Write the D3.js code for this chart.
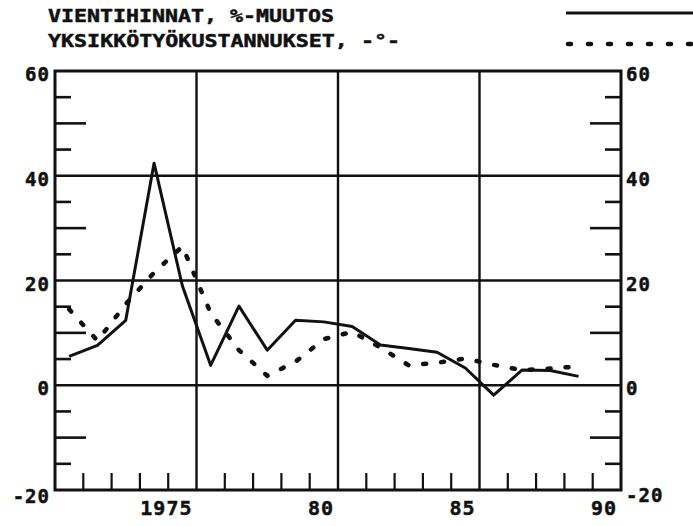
<!DOCTYPE html>
<html>
<head>
<meta charset="utf-8">
<script src="https://cdn.jsdelivr.net/npm/d3@7"></script>
<style>
  html, body { margin: 0; padding: 0; background: #fff; }
  svg { display: block; }
  text { font-family: "DejaVu Sans Mono", "Liberation Mono", monospace; font-weight: bold;
         fill: #111; stroke: #111; stroke-width: 0.5; }
</style>
</head>
<body>
<svg id="chart" width="693" height="526"></svg>
<script>
// Annual % change, plotted at the middle of each year
const years = [1971, 1972, 1973, 1974, 1975, 1976, 1977, 1978, 1979, 1980,
               1981, 1982, 1983, 1984, 1985, 1986, 1987, 1988, 1989];
// Export prices (solid line)
const exportPrices = [5.5, 7.6, 12.4, 42.4, 19.0, 3.8, 15.1, 6.7, 12.4, 12.1,
                      11.2, 7.7, 7.0, 6.3, 3.3, -1.9, 2.9, 2.8, 1.7];
// Unit labour costs (dotted line)
const unitLabourCosts = [14.5, 8.5, 15.5, 21.5, 26.5, 13.8, 6.7, 1.8, 4.5, 8.8,
                         10.2, 7.2, 3.8, 4.3, 5.1, 3.9, 2.9, 3.2, 3.6];

const yTicks = [-20, 0, 20, 40, 60];
const yMinorTicks = [-15, -10, -5, 5, 10, 15, 25, 30, 35, 45, 50, 55];
const xLabels = [1975, 1980, 1985, 1990];
const xLabelText = ["1975", "80", "85", "90"];
const legendLabels = ["VIENTIHINNAT, %-MUUTOS", "YKSIKKÖTYÖKUSTANNUKSET, -°-"];

const svg = d3.select("#chart");
const ink = "#111";

const x = d3.scaleLinear().domain([1971, 1991]).range([55, 621]);
const y = d3.scaleLinear().domain([-20, 60]).range([490, 71]);

const [x0, x1] = x.range();
const [yb, yt] = y.range();

// Horizontal grid lines at the labelled values
svg.append("g").selectAll("line")
  .data(yTicks.filter(v => v > -20 && v < 60))
  .join("line")
  .attr("x1", x0).attr("x2", x1)
  .attr("y1", d => y(d)).attr("y2", d => y(d))
  .attr("stroke", ink).attr("stroke-width", 2.6);

// Vertical grid lines closing each five-year block
svg.append("g").selectAll("line")
  .data(xLabels.filter(v => v < 1990))
  .join("line")
  .attr("x1", d => x(d + 1)).attr("x2", d => x(d + 1))
  .attr("y1", yb).attr("y2", yt)
  .attr("stroke", ink).attr("stroke-width", 2.4);

// Minor ticks on both vertical axes (long at multiples of 10)
const tickLen = d => (d % 10 === 0 ? 31 : 16);
svg.append("g").selectAll("line")
  .data(yMinorTicks)
  .join("line")
  .attr("x1", x0).attr("x2", d => x0 + tickLen(d))
  .attr("y1", d => y(d)).attr("y2", d => y(d))
  .attr("stroke", ink).attr("stroke-width", 2.6);
svg.append("g").selectAll("line")
  .data(yMinorTicks)
  .join("line")
  .attr("x1", x1).attr("x2", d => x1 - tickLen(d))
  .attr("y1", d => y(d)).attr("y2", d => y(d))
  .attr("stroke", ink).attr("stroke-width", 2.6);

// Yearly ticks on the bottom axis
const yearTicks = d3.range(1972, 1991).filter(v => (v - 1971) % 5 !== 0);
svg.append("g").selectAll("line")
  .data(yearTicks)
  .join("line")
  .attr("x1", d => x(d)).attr("x2", d => x(d))
  .attr("y1", yb).attr("y2", yb - 17)
  .attr("stroke", ink).attr("stroke-width", 2.2);

// Frame
svg.append("rect")
  .attr("x", x0).attr("y", yt)
  .attr("width", x1 - x0).attr("height", yb - yt)
  .attr("fill", "none").attr("stroke", ink).attr("stroke-width", 3);

// Axis labels
const fmt = d => d < 0 ? "-" + Math.abs(d) : String(d);
svg.append("g").selectAll("text")
  .data(yTicks)
  .join("text")
  .attr("x", x0 - 5).attr("y", d => y(d) + (d === -20 ? 6 : 3))
  .attr("text-anchor", "end").attr("dominant-baseline", "central")
  .attr("font-size", 19).attr("letter-spacing", 1)
  .text(fmt);
svg.append("g").selectAll("text")
  .data(yTicks)
  .join("text")
  .attr("x", x1 + 5).attr("y", d => y(d) + (d === -20 ? 5 : 3))
  .attr("text-anchor", "start").attr("dominant-baseline", "central")
  .attr("font-size", 19).attr("letter-spacing", 1)
  .text(fmt);
svg.append("g").selectAll("text")
  .data(xLabels)
  .join("text")
  .attr("x", d => x(d + 1) - 4).attr("y", yb + 18)
  .attr("text-anchor", "end").attr("dominant-baseline", "central")
  .attr("font-size", 20).attr("letter-spacing", 1)
  .text((d, i) => xLabelText[i]);

// Series
const line = vals => d3.line()
  .x((d, i) => x(years[i] + 0.5))
  .y(d => y(d))(vals);

svg.append("path")
  .attr("d", line(unitLabourCosts))
  .attr("fill", "none").attr("stroke", ink)
  .attr("stroke-width", 4.5).attr("stroke-linecap", "round")
  .attr("stroke-dasharray", "3,15");

svg.append("path")
  .attr("d", line(exportPrices))
  .attr("fill", "none").attr("stroke", ink)
  .attr("stroke-width", 3).attr("stroke-linejoin", "round");

// Legend
const legend = svg.append("g");
legend.selectAll("text")
  .data(legendLabels)
  .join("text")
  .attr("x", 48).attr("y", (d, i) => 22 + i * 25)
  .attr("font-size", 18)
  .attr("textLength", (d, i) => i === 0 ? 286 : 352)
  .attr("lengthAdjust", "spacingAndGlyphs")
  .text(d => d);
legend.append("line")
  .attr("x1", 566).attr("x2", 693).attr("y1", 13).attr("y2", 13)
  .attr("stroke", ink).attr("stroke-width", 3);
legend.append("line")
  .attr("x1", 568).attr("x2", 693).attr("y1", 44).attr("y2", 44)
  .attr("stroke", ink).attr("stroke-width", 4.5)
  .attr("stroke-linecap", "round").attr("stroke-dasharray", "3,17");
</script>
</body>
</html>
